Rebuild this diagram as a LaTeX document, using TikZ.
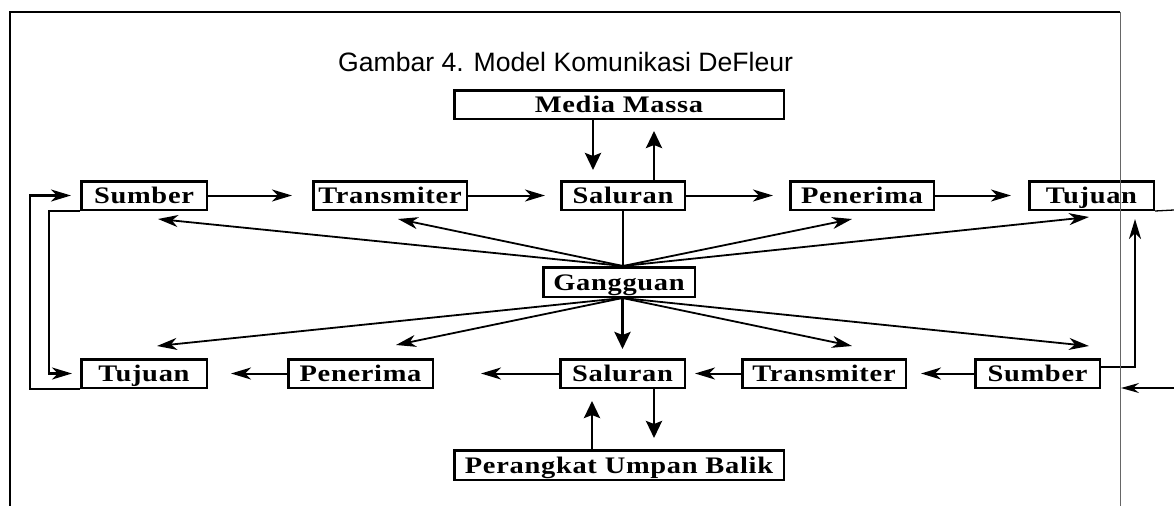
\documentclass[tikz,border=0pt]{standalone}
\usepackage{fontspec}
\setmainfont{Liberation Serif}
\newfontfamily\boxfont[FakeStretch=1.2, LetterSpace=3]{Liberation Serif Bold}
\newfontfamily\titlefont{Liberation Sans}
\usetikzlibrary{arrows.meta}
\begin{document}
\begin{tikzpicture}[x=1pt,y=-1pt,
  box/.style={draw, line width=2.5pt, minimum height=28.5pt, inner sep=0pt,
    text height=16pt, text depth=0pt, font=\boxfont\fontsize{23.7}{27}\selectfont},
  titletext/.style={anchor=base west, inner sep=0pt, font=\titlefont\fontsize{26.6}{30}\selectfont},
  arr/.style={line width=2pt, -{Stealth[length=20pt,width=12pt,inset=6pt]}},
  fan/.style={line width=1.8pt, -{Stealth[length=20pt,width=12pt,inset=6pt]}},
  thickarr/.style={line width=2.8pt, -{Stealth[length=17pt,width=16pt,inset=3pt]}},
  looparr/.style={line width=2.5pt, -{Stealth[length=20pt,width=12pt,inset=6pt]}},
  plainline/.style={line width=2.5pt}]
\useasboundingbox (0,0) rectangle (1174,506);

% title
\node[titletext] (title) at (338,71) {Gambar 4. Model Komunikasi DeFleur};

% nodes
\node[box, minimum width=329.5pt] (media) at (619,104.5) {Media Massa};
\node[box, minimum width=125.5pt] (sA) at (144,195.5) {Sumber};
\node[box, minimum width=153.5pt] (tA) at (390,195.5) {Transmiter};
\node[box, minimum width=123.5pt] (cA) at (623,195.5) {Saluran};
\node[box, minimum width=143.5pt] (pA) at (862,195.5) {Penerima};
\node[box, minimum width=124.5pt] (uA) at (1091.5,195.5) {Tujuan};
\node[box, minimum width=151.5pt, minimum height=29.5pt] (gang) at (619,282) {Gangguan};
\node[box, minimum width=125.5pt] (uB) at (144,373.5) {Tujuan};
\node[box, minimum width=144.5pt] (pB) at (360.5,373.5) {Penerima};
\node[box, minimum width=124.5pt] (cB) at (622.5,373.5) {Saluran};
\node[box, minimum width=163.5pt] (tB) at (824,373.5) {Transmiter};
\node[box, minimum width=124.5pt] (sB) at (1037.5,373.5) {Sumber};
\node[box, minimum width=329.5pt, minimum height=29.5pt] (fb) at (619,465) {Perangkat Umpan Balik};

% top row chain
\draw[arr, shorten >=20pt] (sA.east) -- (tA.west);
\draw[arr, shorten >=15pt] (tA.east) -- (cA.west);
\draw[arr, shorten >=16pt] (cA.east) -- (pA.west);
\draw[arr, shorten >=17pt] (pA.east) -- (uA.west);

% bottom row chain
\draw[arr, shorten >=14pt] (sB.west) -- (tB.east);
\draw[arr, shorten >=9pt] (tB.west) -- (cB.east);
\draw[arr, shorten >=47pt] (cB.west) -- (pB.east);
\draw[arr, shorten >=23pt] (pB.west) -- (uB.east);

% media massa <-> saluran
\draw[thickarr, shorten >=10pt] ([xshift=-30pt]cA.north |- media.south) -- ([xshift=-30pt]cA.north);
\draw[thickarr, shorten >=11pt] ([xshift=31pt]cA.north) -- ([xshift=31pt]cA.north |- media.south);

% saluran - gangguan - saluran
\draw[plainline] (cA.south) -- (cA.south |- gang.north);
\draw[thickarr, shorten >=9pt] (cB.north |- gang.south) -- (cB.north);

% saluran <-> perangkat umpan balik
\draw[thickarr, shorten >=12pt] ([xshift=-30.5pt]cB.south |- fb.north) -- ([xshift=-30.5pt]cB.south);
\draw[thickarr, shorten >=11pt] ([xshift=31.5pt]cB.south) -- ([xshift=31.5pt]cB.south |- fb.north);

% noise fan, upper
\draw[fan] (cA.south |- gang.north) -- ([xshift=14pt,yshift=-8pt]sA.south);
\draw[fan] (cA.south |- gang.north) -- ([xshift=8pt,yshift=-8pt]tA.south);
\draw[fan] (cA.south |- gang.north) -- ([xshift=-10pt,yshift=-8pt]pA.south);
\draw[fan] (cA.south |- gang.north) -- ([xshift=-2.5pt,yshift=-6pt]uA.south);

% noise fan, lower
\draw[fan] (cB.north |- gang.south) -- ([xshift=13pt,yshift=12pt]uB.north);
\draw[fan] (cB.north |- gang.south) -- ([xshift=35.5pt,yshift=13pt]pB.north);
\draw[fan] (cB.north |- gang.south) -- ([xshift=28pt,yshift=12pt]tB.north);
\draw[fan] (cB.north |- gang.south) -- ([xshift=51.5pt,yshift=12pt]sB.north);

% left feedback loops
\draw[looparr, shorten >=9pt] (uB.south west) -| ([xshift=-50pt]sA.west) -- (sA.west);
\draw[looparr, shorten >=8pt] (sA.south west) -| ([xshift=-31pt]uB.west) -- (uB.west);

% right side loop
\draw[looparr, shorten >=8pt] ([yshift=6.5pt]sB.east) -| ([xshift=43.5pt]uA.south);
\coordinate (edgeA) at (1174,210);
\draw[line width=1.3pt] (uA.south east) -- (edgeA);
\coordinate (edgeB) at (1174,388);
\coordinate (frameB) at (1121,388);
\draw[line width=1.5pt, -{Stealth[length=18pt,width=10pt,inset=6pt]}] (edgeB) -- (frameB);

% frame
\draw[line width=2pt] (9,12) -- (1120,12);
\draw[line width=1.5pt] (10,12) -- (10,506);
\draw[line width=1pt, black!60] (1120,12) -- (1120,506);
\end{tikzpicture}
\end{document}
